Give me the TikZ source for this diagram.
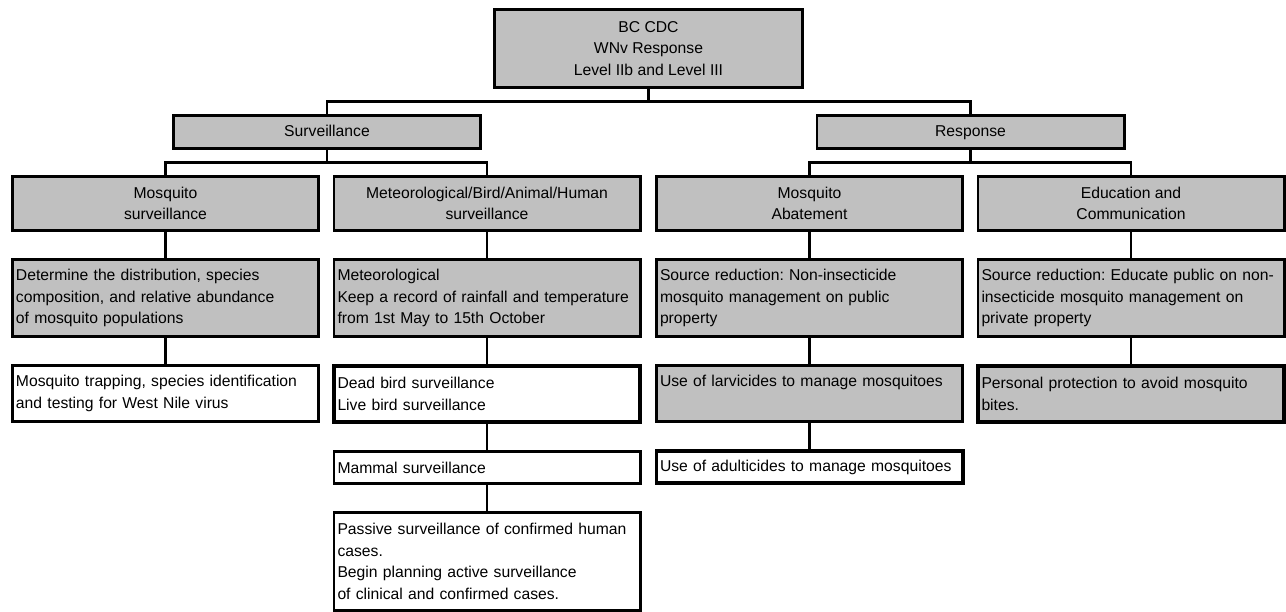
\documentclass[tikz,border=0pt]{standalone}
\usepackage{fontspec}
\setmainfont{Liberation Sans}
\usepackage{tikz}
\usetikzlibrary{positioning}
\definecolor{boxgray}{RGB}{192,192,192}
\tikzstyle{head}   = [rectangle, draw, fill=boxgray, line width=2.6pt, align=center, inner sep=0pt, font=\fontsize{15.7}{21.7}\selectfont\frenchspacing]
\tikzstyle{branch} = [head, minimum width=307.4pt, minimum height=33.4pt, text height=12pt, text depth=3.5pt]
\tikzstyle{topic}  = [head, minimum width=306.4pt, minimum height=54.4pt]
\tikzstyle{task}   = [rectangle, draw, fill=boxgray, line width=2.6pt, align=left, text width=299pt, inner xsep=3.7pt, inner ysep=0pt, minimum width=306.4pt, font=\fontsize{15.7}{21.7}\selectfont\frenchspacing]
\tikzstyle{plain}  = [task, fill=white]
\tikzstyle{bold}   = [line width=3.6pt]
\tikzstyle{link}   = [draw, line width=2.6pt]

\begin{document}
\begin{tikzpicture}[x=1pt, y=1pt]
	\useasboundingbox (0,0) rectangle (1286,612);
	% top and program nodes
	\node [head, minimum width=308.4pt, minimum height=78.4pt] (cdc) at (648.5,563.5) {BC CDC\\WNv Response\\Level IIb and Level III};
	\node [branch] (surv) at (327,480)   {Surveillance};
	\node [branch] (resp) at (970.5,480) {Response};
	% place topic nodes
	\node [topic] (mosq)  at (165.5,408.5) {Mosquito\\surveillance};
	\node [topic] (mbah)  at (487,408.5)   {Meteorological/Bird/Animal/Human\\surveillance};
	\node [topic] (abate) at (809.5,408.5) {Mosquito\\Abatement};
	\node [topic] (educ)  at (1131,408.5)  {Education and\\Communication};

	% mosquito surveillance column
	\node [task, minimum height=77.4pt, below=26pt of mosq]  (distr) {Determine the distribution, species\\composition, and relative abundance\\of mosquito populations};
	\node [plain, minimum height=56.4pt, below=26pt of distr] (trap) {Mosquito trapping, species identification\\and testing for West Nile virus};
	% meteorological/bird/animal/human column
	\node [task, minimum height=77.4pt, below=26pt of mbah]  (meteo) {Meteorological\\Keep a record of rainfall and temperature\\from 1st May to 15th October};
	\node [plain, bold, minimum height=56.4pt, below=26pt of meteo] (bird) {Dead bird surveillance\\Live bird surveillance};
	\node [plain, minimum height=32.4pt, below=26pt of bird] (mammal) {Mammal surveillance};
	\node [plain, minimum height=98.4pt, below=26pt of mammal] (human) {Passive surveillance of confirmed human\\cases.\\Begin planning active surveillance\\of clinical and confirmed cases.};
	% abatement column
	\node [task, minimum height=77.4pt, below=26pt of abate] (srcpub) {Source reduction: Non-insecticide\\mosquito management on public\\property};
	\node [task, minimum height=56.4pt, text depth=25.7pt, below=26pt of srcpub] (larv) {Use of larvicides to manage mosquitoes};
	\node [plain, bold, minimum height=32.4pt, below=26pt of larv] (adult) {Use of adulticides to manage mosquitoes};
	% education column
	\node [task, minimum height=77.4pt, below=26pt of educ] (srcpriv) {Source reduction: Educate public on non-\\insecticide mosquito management on\\private property};
	\node [task, bold, minimum height=56.4pt, below=26pt of srcpriv] (protect) {Personal protection to avoid mosquito\\bites.};

	% draw edges
	\path [link] (cdc.south) -- ++(0,-12.5) -| (surv.north);
	\path [link] (cdc.south) -- ++(0,-12.5) -| (resp.north);
	\path [link] (surv.south) -- ++(0,-12.5) -| (mosq.north);
	\path [link] (surv.south) -- ++(0,-12.5) -| (mbah.north);
	\path [link] (resp.south) -- ++(0,-12.5) -| (abate.north);
	\path [link] (resp.south) -- ++(0,-12.5) -| (educ.north);
	\path [link] (mosq.south) -- (distr.north);
	\path [link] (distr.south) -- (trap.north);
	\path [link] (mbah.south) -- (meteo.north);
	\path [link] (meteo.south) -- (bird.north);
	\path [link] (bird.south) -- (mammal.north);
	\path [link] (mammal.south) -- (human.north);
	\path [link] (abate.south) -- (srcpub.north);
	\path [link] (srcpub.south) -- (larv.north);
	\path [link] (larv.south) -- (adult.north);
	\path [link] (educ.south) -- (srcpriv.north);
	\path [link] (srcpriv.south) -- (protect.north);
\end{tikzpicture}
\end{document}
